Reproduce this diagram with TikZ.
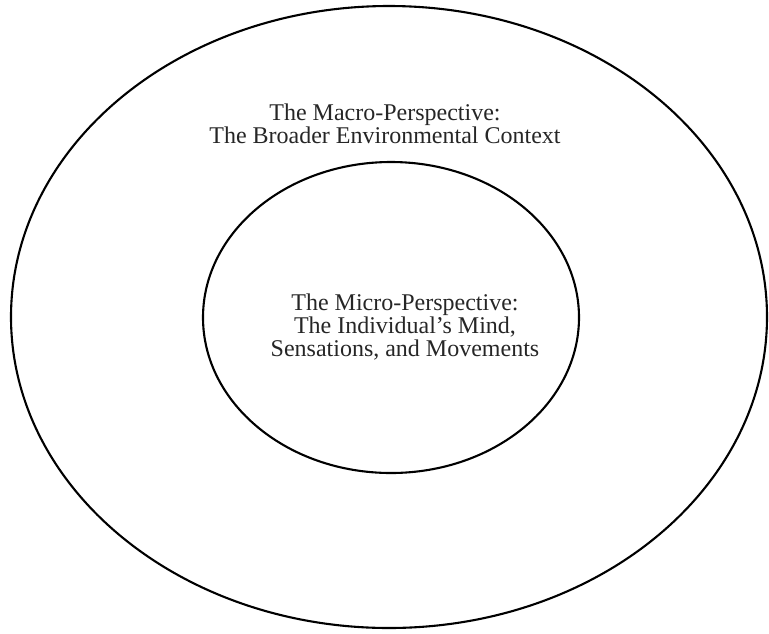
\documentclass[tikz,border=0pt]{standalone}
\usepackage{fontspec}
\setmainfont{Liberation Serif}
\usetikzlibrary{shapes.geometric}

\tikzset{ring/.style={draw=black,line width=2.1pt,ellipse,inner sep=0pt},
  label text/.style={align=center,font=\fontsize{24}{23.3}\selectfont,text=black!85}}

\begin{document}
\begin{tikzpicture}[x=1pt,y=1pt]
\useasboundingbox (0,0) rectangle (769,-633);
\node[ring,minimum width=756pt,minimum height=622pt] (macro) at (389,-317){};
\node[ring,minimum width=376pt,minimum height=311pt] (micro) at (391,-317.5){};
\node[label text] (macrotext) at (385,-123.5){The Macro-Perspective:\\The Broader Environmental Context};
\node[label text] (microtext) at (405,-327){The Micro-Perspective:\\The Individual's Mind,\\Sensations, and Movements};
\end{tikzpicture}
\end{document}
